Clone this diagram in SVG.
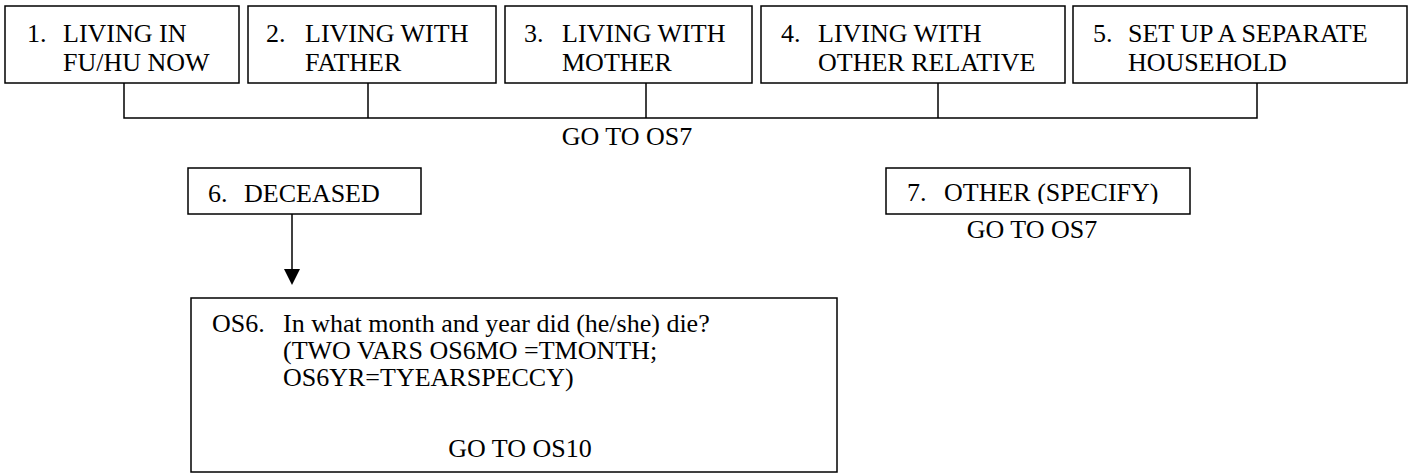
<svg xmlns="http://www.w3.org/2000/svg" width="1412" height="474" viewBox="0 0 1412 474" font-family="Liberation Serif, Times New Roman, DejaVu Serif, serif">
<style>
.box{fill:#fff;stroke:#000;stroke-width:1.5}
.t{font-size:26px;fill:#000}
.c{fill:none;stroke:#000;stroke-width:1.5}
.m{text-anchor:middle}
</style>
<defs>
<clipPath id="clip7"><rect x="886" y="160" width="304" height="44"/></clipPath>
</defs>
<rect width="1412" height="474" fill="#fff"/>
<g id="connectors">
<polyline class="c" points="124,83 124,118 1257,118 1257,83"/>
<line class="c" x1="368" y1="83" x2="368" y2="118"/>
<line class="c" x1="646" y1="83" x2="646" y2="118"/>
<line class="c" x1="938" y1="83" x2="938" y2="118"/>
<line class="c" x1="292" y1="214" x2="292" y2="270"/>
<polygon points="284,269 300,269 292,285" fill="#000"/>
<text class="t m" x="627" y="145">GO TO OS7</text>
</g>
<g id="n1">
<rect class="box" x="5" y="6" width="234" height="77"/>
<text class="t" x="27" y="42">1.</text>
<text class="t" x="63" y="42">LIVING IN</text>
<text class="t" x="63" y="71">FU/HU NOW</text>
</g>
<g id="n2">
<rect class="box" x="248" y="6" width="248" height="77"/>
<text class="t" x="266" y="42">2.</text>
<text class="t" x="305" y="42">LIVING WITH</text>
<text class="t" x="305" y="71">FATHER</text>
</g>
<g id="n3">
<rect class="box" x="505" y="6" width="247" height="77"/>
<text class="t" x="524" y="42">3.</text>
<text class="t" x="562" y="42">LIVING WITH</text>
<text class="t" x="562" y="71">MOTHER</text>
</g>
<g id="n4">
<rect class="box" x="761" y="6" width="304" height="77"/>
<text class="t" x="781" y="42">4.</text>
<text class="t" x="818" y="42">LIVING WITH</text>
<text class="t" x="818" y="71">OTHER RELATIVE</text>
</g>
<g id="n5">
<rect class="box" x="1073" y="6" width="334" height="77"/>
<text class="t" x="1093" y="42">5.</text>
<text class="t" x="1128" y="42">SET UP A SEPARATE</text>
<text class="t" x="1128" y="71">HOUSEHOLD</text>
</g>
<g id="n6">
<rect class="box" x="188" y="168" width="233" height="46"/>
<text class="t" x="208" y="202">6.</text>
<text class="t" x="244" y="202">DECEASED</text>
</g>
<g id="n7">
<rect class="box" x="886" y="168" width="304" height="46"/>
<g clip-path="url(#clip7)">
<text class="t" x="907" y="201">7.</text>
<text class="t" x="944" y="201">OTHER (SPECIFY)</text>
</g>
<text class="t m" x="1032" y="238">GO TO OS7</text>
</g>
<g id="os6">
<rect class="box" x="191" y="298" width="646" height="174"/>
<text class="t" x="212" y="332">OS6.</text>
<text class="t" x="283" y="332">In what month and year did (he/she) die?</text>
<text class="t" x="283" y="359">(TWO VARS OS6MO =TMONTH;</text>
<text class="t" x="283" y="386">OS6YR=TYEARSPECCY)</text>
<text class="t m" x="520" y="457">GO TO OS10</text>
</g>
</svg>
